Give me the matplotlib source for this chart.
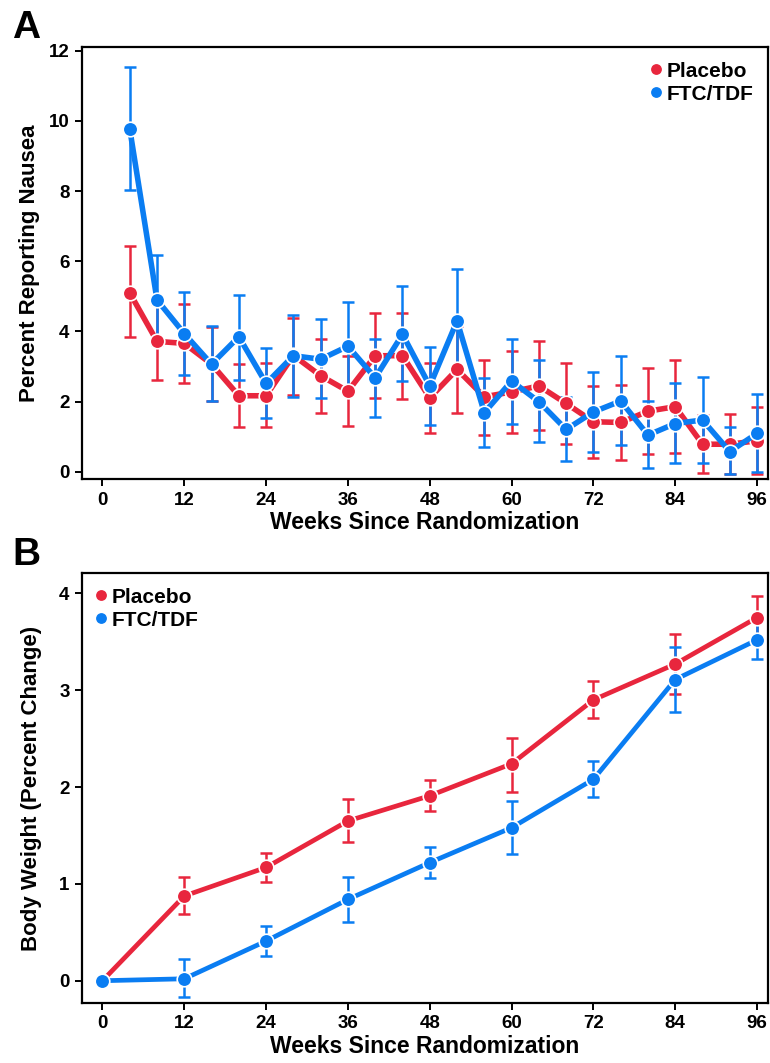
import matplotlib
matplotlib.use("Agg")
import matplotlib.pyplot as plt
import numpy as np

plt.rcParams['font.family'] = ['Liberation Sans', 'DejaVu Sans']
plt.rcParams['font.weight'] = 'bold'

RED = '#e8263d'
BLUE = '#0a7df2'

# panel A: nausea, every 4 weeks
weeks_a = [4, 8, 12, 16, 20, 24, 28, 32, 36, 40, 44, 48,
           52, 56, 60, 64, 68, 72, 76, 80, 84, 88, 92, 96]
pla_a = [5.1, 3.72, 3.66, 3.07, 2.17, 2.17, 3.32, 2.74, 2.30, 3.31, 3.31, 2.11,
         2.92, 2.14, 2.28, 2.45, 1.95, 1.43, 1.41, 1.73, 1.86, 0.79, 0.79, 0.89]
pla_a_lo = [3.83, 2.62, 2.52, 2.03, 1.29, 1.27, 2.20, 1.69, 1.32, 2.12, 2.09, 1.10,
            1.69, 1.04, 1.12, 1.19, 0.79, 0.41, 0.34, 0.51, 0.55, -0.04, -0.06, -0.05]
pla_a_hi = [6.42, 4.78, 4.77, 4.12, 3.07, 3.11, 4.37, 3.80, 3.30, 4.53, 4.54, 3.11,
            4.15, 3.18, 3.45, 3.73, 3.09, 2.45, 2.47, 2.97, 3.18, 1.62, 1.65, 1.86]
ftc_a = [9.77, 4.90, 3.94, 3.07, 3.85, 2.52, 3.31, 3.21, 3.58, 2.68, 3.92, 2.45,
         4.30, 1.69, 2.59, 2.00, 1.21, 1.71, 2.02, 1.05, 1.38, 1.48, 0.58, 1.10]
ftc_a_lo = [8.03, 3.61, 2.76, 2.03, 2.62, 1.54, 2.14, 2.11, 2.32, 1.57, 2.59, 1.34,
            2.80, 0.70, 1.36, 0.85, 0.30, 0.58, 0.76, 0.10, 0.25, 0.26, -0.06, 0.0]
ftc_a_hi = [11.53, 6.17, 5.13, 4.15, 5.03, 3.53, 4.46, 4.35, 4.84, 3.80, 5.30, 3.55,
            5.79, 2.67, 3.80, 3.18, 2.14, 2.85, 3.30, 2.02, 2.54, 2.69, 1.27, 2.22]

# panel B: body weight, every 12 weeks
weeks_b = [0, 12, 24, 36, 48, 60, 72, 84, 96]
pla_b = [0.0, 0.875, 1.17, 1.65, 1.91, 2.24, 2.90, 3.27, 3.75]
pla_b_lo = [0.0, 0.69, 1.02, 1.43, 1.75, 1.95, 2.71, 2.96, 3.53]
pla_b_hi = [0.0, 1.07, 1.32, 1.88, 2.07, 2.51, 3.09, 3.58, 3.97]
ftc_b = [0.0, 0.02, 0.41, 0.84, 1.22, 1.58, 2.08, 3.11, 3.52]
ftc_b_lo = [0.0, -0.17, 0.26, 0.61, 1.06, 1.31, 1.90, 2.77, 3.32]
ftc_b_hi = [0.0, 0.22, 0.57, 1.07, 1.38, 1.86, 2.27, 3.45, 3.73]


def series(ax, x, y, lo, hi, color, label, lw, ms):
    y = np.array(y)
    err = [y - np.array(lo), np.array(hi) - y]
    ax.errorbar(x, y, yerr=err, fmt='none', ecolor=color, elinewidth=1.8,
                capsize=4.5, capthick=1.8, zorder=2)
    ax.plot(x, y, color=color, lw=lw, marker='o', ms=ms, mfc=color,
            mec='white', mew=1.2, label=label, zorder=3)


def style(ax):
    for s in ax.spines.values():
        s.set_linewidth(1.6)
    ax.tick_params(width=1.4, length=5, labelsize=13.5, pad=4)
    ax.set_xticks(range(0, 97, 12))
    ax.set_xlabel('Weeks Since Randomization', fontsize=16.5, fontweight='bold',
                  labelpad=2)
    for t in ax.get_xticklabels() + ax.get_yticklabels():
        t.set_fontweight('bold')


def legend(ax, loc):
    leg = ax.legend(loc=loc, frameon=False, handlelength=0.4,
                    handletextpad=0.3, borderaxespad=0.3, labelspacing=0.2,
                    prop={'weight': 'bold', 'size': 15})
    for h in leg.legend_handles:
        h.set_linestyle('none')
        h.set_markersize(9)


fig = plt.figure(figsize=(7.7, 10.63), dpi=100)
W, H = 770, 1063
axA = fig.add_axes([82 / W, 1 - 479 / H, 686 / W, 432 / H])
axB = fig.add_axes([82 / W, 1 - 1003 / H, 686 / W, 430 / H])

series(axA, weeks_a, pla_a, pla_a_lo, pla_a_hi, RED, 'Placebo', 4, 10.5)
series(axA, weeks_a, ftc_a, ftc_a_lo, ftc_a_hi, BLUE, 'FTC/TDF', 4, 10.5)
axA.set_xlim(-3, 97.6)
axA.set_ylim(-0.2, 12.1)
axA.set_yticks(range(0, 13, 2))
axA.set_ylabel('Percent Reporting Nausea', fontsize=16, fontweight='bold',
               labelpad=6)
style(axA)
legend(axA, 'upper right')

series(axB, weeks_b, pla_b, pla_b_lo, pla_b_hi, RED, 'Placebo', 3.4, 10.5)
series(axB, weeks_b, ftc_b, ftc_b_lo, ftc_b_hi, BLUE, 'FTC/TDF', 3.4, 10.5)
axB.set_xlim(-3, 97.6)
axB.set_ylim(-0.23, 4.21)
axB.set_yticks(range(0, 5))
axB.set_ylabel('Body Weight (Percent Change)', fontsize=16, fontweight='bold',
               labelpad=12)
style(axB)
legend(axB, 'upper left')

fig.text(12 / W, 1 - 38 / H, 'A', fontsize=28, fontweight='bold')
fig.text(12 / W, 1 - 565 / H, 'B', fontsize=28, fontweight='bold')

fig.savefig('out.png', dpi=100)
